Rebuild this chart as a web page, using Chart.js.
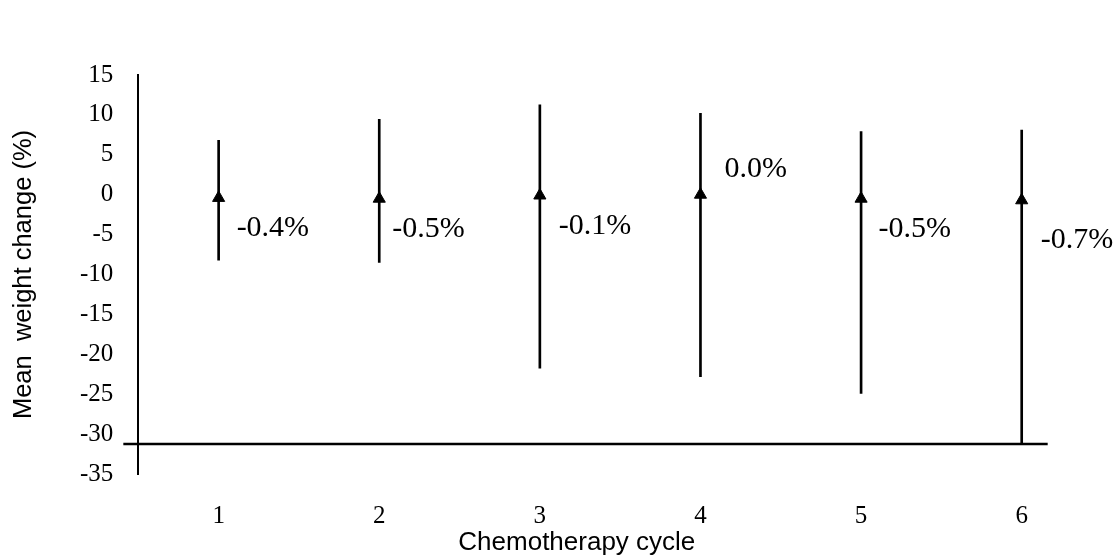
<!DOCTYPE html>
<html>
<head>
<meta charset="utf-8">
<script src="https://cdn.jsdelivr.net/npm/chart.js@4/dist/chart.umd.min.js"></script>
<style>
  html, body { margin: 0; padding: 0; background: #fff; }
  #wrap { width: 1116px; height: 557px; }
</style>
</head>
<body>
<div id="wrap"><canvas id="myChart"></canvas></div>
<script>
// data
const cycles = ['1', '2', '3', '4', '5', '6'];
const meanChange = [-0.4, -0.5, -0.1, 0.0, -0.5, -0.7];
const lowerValues = [-8.2, -8.5, -21.75, -22.8, -24.9, -31.25];
const upperValues = [6.8, 9.45, 11.25, 10.2, 7.9, 8.1];
const pointLabels = ['-0.4%', '-0.5%', '-0.1%', '0.0%', '-0.5%', '-0.7%'];
const yTicks = [-35, -30, -25, -20, -15, -10, -5, 0, 5, 10, 15];
const baselineValue = -31.25;

// label placement next to each marker (px)
const labelOffsets = [[18, 30], [13, 30], [19, 31], [24, -26], [17.5, 30], [19, 40]];

const ranges = lowerValues.map((lo, i) => [lo, upperValues[i]]);

// horizontal line and the percentage labels
const extras = {
    id: 'extras',
    afterDatasetsDraw(chart) {
        const ctx = chart.ctx;
        const x = chart.scales.x;
        const y = chart.scales.y;
        const yy = y.getPixelForValue(baselineValue);
        ctx.save();
        ctx.strokeStyle = '#000';
        ctx.lineWidth = 2.5;
        ctx.beginPath();
        ctx.moveTo(chart.chartArea.left - 15, yy);
        ctx.lineTo(x.getPixelForValue(cycles.length - 1) + 26, yy);
        ctx.stroke();

        ctx.fillStyle = '#000';
        ctx.font = '30px "Liberation Serif"';
        ctx.textAlign = 'left';
        ctx.textBaseline = 'middle';
        chart.getDatasetMeta(1).data.forEach((pt, i) => {
            ctx.fillText(pointLabels[i], pt.x + labelOffsets[i][0], pt.y + labelOffsets[i][1]);
        });
        ctx.restore();
    }
};

const ctx = document.getElementById('myChart').getContext('2d');
const myChart = new Chart(ctx, {
    type: 'bar',
    data: {
        labels: cycles,
        datasets: [{
            label: 'Range',
            data: ranges,
            backgroundColor: '#000',
            borderWidth: 0,
            barThickness: 2,
            order: 2
        }, {
            type: 'line',
            label: 'Mean weight change',
            data: meanChange,
            showLine: false,
            pointStyle: 'triangle',
            pointRadius: 7,
            pointBackgroundColor: '#000',
            pointBorderColor: '#000',
            pointBorderWidth: 1,
            order: 1
        }]
    },
    options: {
        responsive: true,
        maintainAspectRatio: false,
        animation: false,
        layout: {
            padding: { top: 75, left: 11, right: 14, bottom: 1 }
        },
        plugins: {
            legend: { display: false },
            tooltip: { enabled: false }
        },
        scales: {
            x: {
                grid: { display: false, drawTicks: false },
                border: { display: false },
                ticks: {
                    color: '#000',
                    padding: 27,
                    font: { family: 'Liberation Serif', size: 25 }
                },
                title: {
                    display: true,
                    text: 'Chemotherapy cycle            ',
                    color: '#000',
                    // chart.js reserves the tick padding twice; pull the title back up
                    padding: { top: -28, bottom: 0 },
                    font: { family: 'Liberation Sans', size: 26, lineHeight: 1 }
                }
            },
            y: {
                min: -35,
                max: 15,
                afterBuildTicks: (scale) => {
                    scale.ticks = yTicks.map(v => ({ value: v }));
                },
                grid: { display: false, drawTicks: false },
                border: { display: true, color: '#000', width: 2 },
                ticks: {
                    color: '#000',
                    padding: 25,
                    font: { family: 'Liberation Serif', size: 25 }
                },
                title: {
                    display: true,
                    text: 'Mean  weight change (%)',
                    color: '#000',
                    padding: { top: 0, bottom: 18.5 },
                    font: { family: 'Liberation Sans', size: 25.5, lineHeight: 1 }
                }
            }
        }
    },
    plugins: [extras]
});
</script>
</body>
</html>
